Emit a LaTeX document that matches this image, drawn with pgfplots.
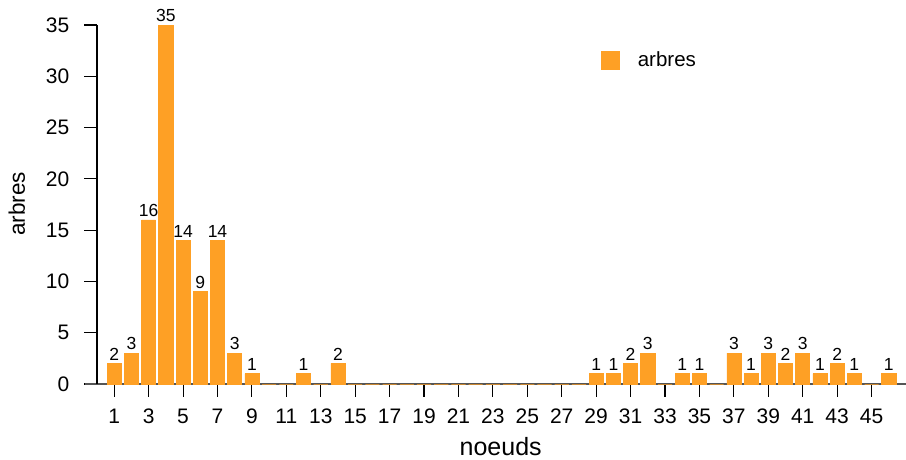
\documentclass[border=0pt]{standalone}
\usepackage{pgfplots}
\pgfplotsset{compat=1.18}
\usepackage{fontspec}
\setmainfont{Liberation Sans}
\definecolor{barorange}{RGB}{254,160,37}
\definecolor{basegray}{RGB}{85,85,85}
\begin{document}
\begin{tikzpicture}
\path[use as bounding box] (-97pt,-75pt) rectangle (809pt,384pt);
\begin{axis}[
  at={(0,0)}, anchor=south west,
  scale only axis, width=809pt, height=359pt,
  xmin=0, xmax=47, ymin=0, ymax=35,
  axis y line*=left, axis x line*=bottom,
  x axis line style={draw=basegray, line width=1.2pt, shorten <=-12pt},
  y axis line style={draw=black, line width=1.1pt},
  xtick={1,3,...,45}, ytick={0,5,...,35},
  tick align=outside, major tick length=12.5pt,
  xtick style={draw=black, line width=1.1pt},
  ytick style={draw=black, line width=1.1pt},
  /pgf/number format/assume math mode=true,
  xticklabel style={font=\fontsize{21}{24}\selectfont, inner sep=0pt, yshift=-12pt},
  yticklabel style={font=\fontsize{21}{24}\selectfont, inner sep=0pt, xshift=-15pt},
  clip=false,
  legend style={draw=none, fill=none, at={(0.623,0.9025)}, anchor=west,
    font=\fontsize{20.5}{24}\selectfont, inner sep=0pt,
    nodes={inner sep=0pt}, column sep=18pt},
  legend image code/.code={\fill[barorange] (0pt,-9pt) rectangle (18pt,9pt);},
]
\addplot[ybar, bar width=0.82, fill=barorange, draw=barorange, line width=0.6pt,
  nodes near coords={\pgfmathfloatifflags{\pgfplotspointmeta}{0}{}{\pgfmathprintnumber{\pgfplotspointmeta}}},
  every node near coord/.append style={font=\fontsize{17.5}{20}\selectfont, inner sep=0pt, yshift=3pt, black}]
coordinates {
(1,2) (2,3) (3,16) (4,35) (5,14) (6,9) (7,14) (8,3) (9,1) (10,0)
(11,0) (12,1) (13,0) (14,2) (15,0) (16,0) (17,0) (18,0) (19,0) (20,0)
(21,0) (22,0) (23,0) (24,0) (25,0) (26,0) (27,0) (28,0) (29,1) (30,1)
(31,2) (32,3) (33,0) (34,1) (35,1) (36,0) (37,3) (38,1) (39,3) (40,2)
(41,3) (42,1) (43,2) (44,1) (45,0) (46,1)
};
\addlegendentry{arbres}
\end{axis}
\node[anchor=base, font=\fontsize{25}{28}\selectfont] at (403.7pt,-71pt) {noeuds};
\node[anchor=base, rotate=90, font=\fontsize{22.5}{26}\selectfont] at (-72pt,180pt) {arbres};
\end{tikzpicture}
\end{document}
